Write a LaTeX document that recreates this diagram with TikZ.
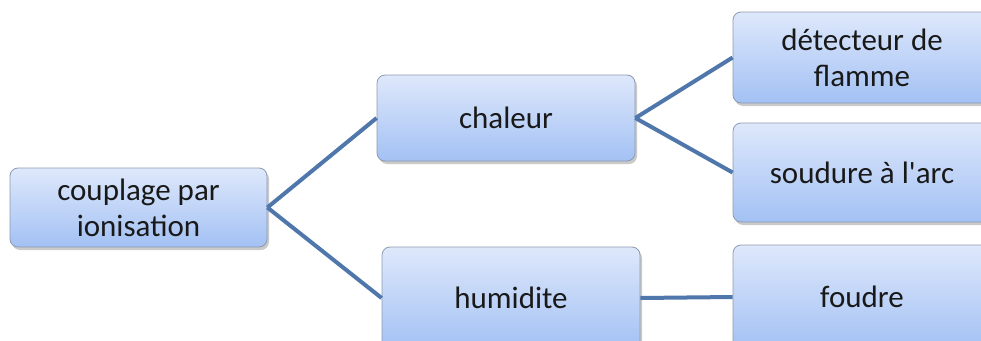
\documentclass[tikz,border=0pt]{standalone}
\usepackage{fontspec}
\setmainfont{Carlito}
\usetikzlibrary{shadows}
\definecolor{boxtop}{HTML}{DEE8FB}
\definecolor{boxbot}{HTML}{A3C1F4}
\definecolor{boxline}{HTML}{8D9BB0}
\definecolor{linkcol}{HTML}{4F77AB}
\tikzset{
  mbox/.style={draw=boxline, line width=0.8pt, rounded corners=8pt,
    top color=boxtop, bottom color=boxbot, align=center,
    inner sep=0pt, text=black!90,
    font=\fontsize{31}{36}\selectfont,
    drop shadow={shadow xshift=2pt, shadow yshift=-3pt, opacity=0.35, fill=black!60}},
  link/.style={draw=linkcol, line width=4pt}
}
\begin{document}
\begin{tikzpicture}[x=1pt,y=1pt]
\useasboundingbox (0,0) rectangle (981,-340);
\clip (0,0) rectangle (981,-340);
\node[mbox, minimum width=257pt, minimum height=79pt] (cp) at (138.5,-207.5) {couplage par\\ionisation};
\node[mbox, minimum width=258pt, minimum height=86pt] (ch) at (506,-118) {chaleur};
\node[mbox, minimum width=258pt, minimum height=102pt] (hu) at (511,-298) {humidite};
\node[mbox, minimum width=258pt, minimum height=91pt] (df) at (862,-57.5) {détecteur de\\flamme};
\node[mbox, minimum width=258pt, minimum height=99pt] (sa) at (862,-172.5) {soudure à l\textquotesingle arc};
\node[mbox, minimum width=258pt, minimum height=104pt] (fo) at (862,-297) {foudre};
\draw[link] (cp.east) -- (ch.west);
\draw[link] (cp.east) -- (hu.west);
\draw[link] (ch.east) -- (df.west);
\draw[link] (ch.east) -- (sa.west);
\draw[link] (hu.east) -- (fo.west);
\end{tikzpicture}
\end{document}
